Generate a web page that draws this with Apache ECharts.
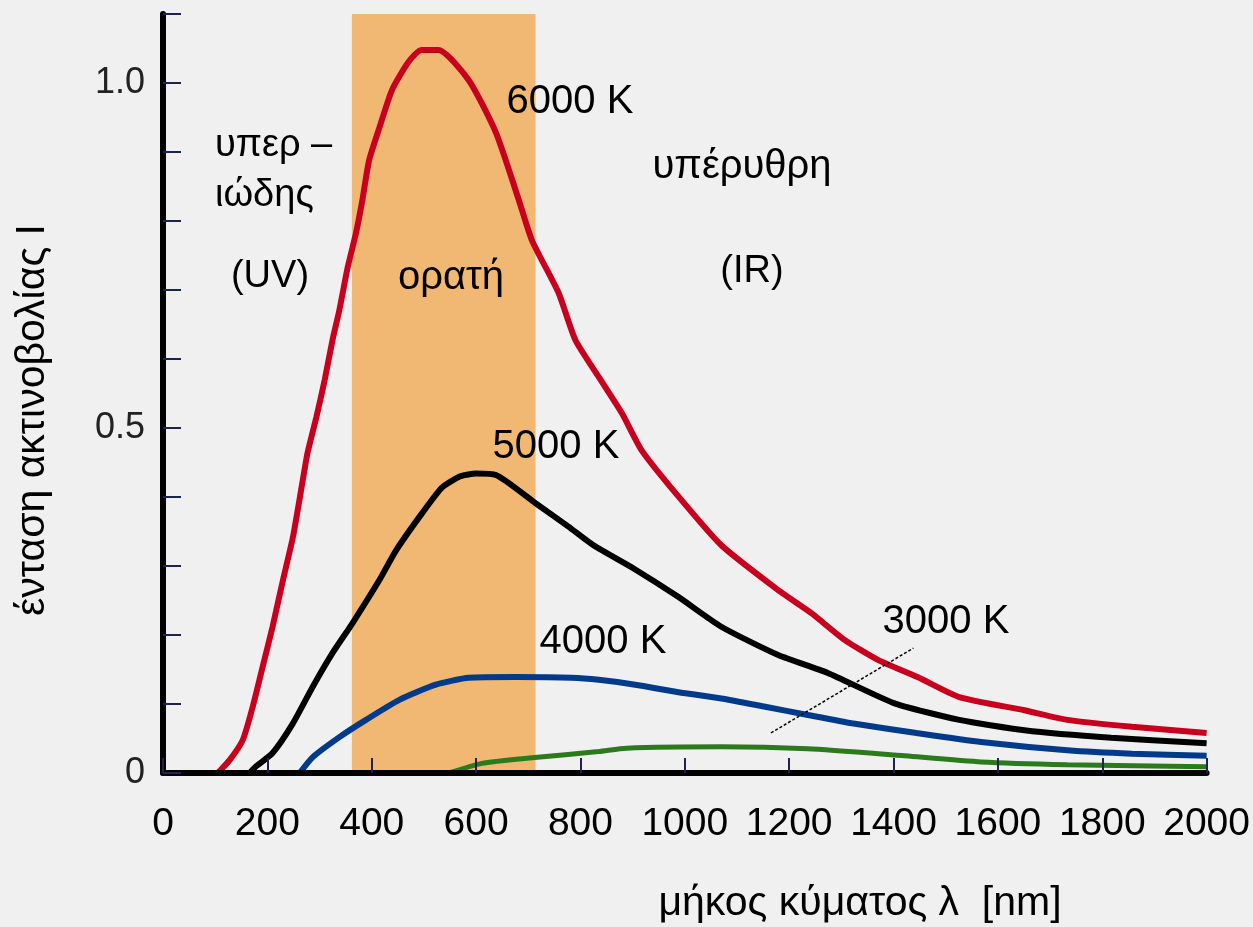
<!DOCTYPE html>
<html>
<head>
<meta charset="utf-8">
<script src="https://cdn.jsdelivr.net/npm/echarts@6/dist/echarts.min.js"></script>
<style>
html,body{margin:0;padding:0;background:#f0f0f0;}
#chart{width:1253px;height:927px;}
</style>
</head>
<body>
<div id="chart"></div>
<script>
// wavelength λ [nm], intensity I
const curve6000 = [[105,0],[128,0.019],[153,0.048],[172,0.096],[191,0.154],[210,0.212],[230,0.28],[249,0.342],[268,0.425],[277,0.464],[294,0.516],[310,0.57],[325,0.628],[338,0.671],[354,0.733],[370,0.783],[382,0.83],[395,0.888],[415,0.936],[439,0.99],[470,1.03],[495,1.048],[528,1.048],[586,1.004],[638,0.928],[682,0.83],[707,0.772],[758,0.696],[790,0.628],[835,0.574],[879,0.522],[917,0.468],[982,0.406],[1070,0.33],[1179,0.265],[1242,0.232],[1306,0.193],[1370,0.164],[1446,0.139],[1526,0.11],[1651,0.091],[1733,0.077],[1857,0.067],[2000,0.058]];
const curve5000 = [[166,0],[179,0.01],[210,0.029],[249,0.072],[287,0.125],[325,0.174],[363,0.217],[415,0.28],[447,0.323],[497,0.377],[535,0.414],[570,0.43],[600,0.434],[638,0.432],[714,0.391],[777,0.357],[825,0.33],[905,0.295],[988,0.255],[1070,0.212],[1179,0.171],[1274,0.145],[1402,0.101],[1526,0.077],[1651,0.062],[1817,0.051],[2000,0.043]];
const curve4000 = [[262,0],[287,0.023],[338,0.052],[389,0.077],[453,0.106],[523,0.128],[586,0.138],[676,0.139],[783,0.138],[835,0.135],[905,0.128],[988,0.117],[1070,0.108],[1154,0.096],[1236,0.084],[1320,0.072],[1444,0.058],[1568,0.045],[1733,0.033],[1857,0.028],[2000,0.025]];
const curve3000 = [[548,0],[611,0.014],[707,0.022],[835,0.031],[888,0.036],[1070,0.038],[1236,0.035],[1402,0.026],[1568,0.016],[1733,0.012],[2000,0.009]];
const pointer3000 = [[1165,0.058],[1438,0.181]];
const visibleBand = [362, 714];
const yLabels = {'0':'0','0.5':'0.5','1':'1.0'};

const chart = echarts.init(document.getElementById('chart'), null, {renderer:'canvas'});
const F = 'Liberation Sans, Arial, sans-serif';
function txt(text, x, y, size, align){
  return {type:'text', x:x, y:y, z:10, style:{text:text, font: size+'px '+F, fill:'#000', align:align||'center', verticalAlign:'middle'}};
}
const option = {
  backgroundColor:'#f0f0f0',
  animation:false,
  grid:{left:163, right:43, top:14, bottom:154},
  xAxis:{
    type:'value', min:0, max:2000, interval:200, z:5,
    axisLine:{lineStyle:{color:'#000', width:6}},
    axisTick:{inside:true, length:15, lineStyle:{color:'#1c2350', width:2}},
    axisLabel:{fontFamily:F, fontSize:39, color:'#000', margin:32, showMaxLabel:true, showMinLabel:true, hideOverlap:false,
      formatter:function(v){return String(v);}},
    splitLine:{show:false}
  },
  yAxis:{
    type:'value', min:0, max:1.1, interval:0.1, z:5,
    axisLine:{show:true, lineStyle:{color:'#000', width:6}},
    axisTick:{show:true, inside:true, length:18, lineStyle:{color:'#1c2350', width:2}},
    axisLabel:{fontFamily:F, fontSize:36, color:'#222', margin:18,
      formatter:function(v){const k=String(Math.round(v*10)/10); return yLabels[k]!==undefined?yLabels[k]:'';}},
    splitLine:{show:false}
  },
  series:[
    {type:'line', data:[], z:1, silent:true,
     markArea:{silent:true, itemStyle:{color:'#f1b874'}, data:[[{xAxis:visibleBand[0], yAxis:0},{xAxis:visibleBand[1], yAxis:1.1}]]}},
    {name:'3000 K', type:'line', data:curve3000, smooth:0.2, showSymbol:false, lineStyle:{color:'#2b7a1c', width:5}},
    {name:'4000 K', type:'line', data:curve4000, smooth:0.2, showSymbol:false, lineStyle:{color:'#003a8a', width:6}},
    {name:'5000 K', type:'line', data:curve5000, smooth:0.2, showSymbol:false, lineStyle:{color:'#000000', width:6}},
    {name:'6000 K', type:'line', data:curve6000, smooth:0.2, showSymbol:false, lineStyle:{color:'#c8001e', width:6}},
    {name:'pointer', type:'line', data:pointer3000, showSymbol:false, lineStyle:{color:'#000', width:1.5, type:[3,2]}}
  ],
  graphic:[
    txt('6000 K', 570, 102, 40),
    txt('5000 K', 556, 447, 40),
    txt('4000 K', 603, 642, 40),
    txt('3000 K', 946, 622, 40),
    txt('υπερ –', 215, 146, 38, 'left'),
    txt('ιώδης', 215, 196, 38, 'left'),
    txt('(UV)', 270, 277, 38),
    txt('ορατή', 451, 278, 40),
    txt('υπέρυθρη', 742, 167, 40),
    txt('(IR)', 752, 272, 38),
    txt('μήκος κύματος λ  [nm]', 860, 904, 41),
    {type:'text', x:33, y:420, rotation:Math.PI/2, originX:0, originY:0, z:10,
     style:{text:'ένταση ακτινοβολίας Ι', font:'41px '+F, fill:'#000', align:'center', verticalAlign:'middle'}}
  ]
};
chart.setOption(option);
</script>
</body>
</html>
